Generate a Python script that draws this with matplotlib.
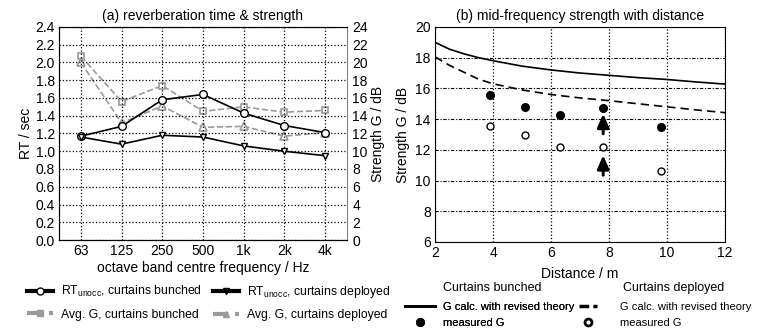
import matplotlib
matplotlib.use("Agg")
import matplotlib.pyplot as plt
from matplotlib.lines import Line2D

plt.rcParams["font.family"] = ["Liberation Sans", "DejaVu Sans"]
plt.rcParams["font.size"] = 10

# ---------------------------------------------------------------------------
# (a) reverberation time and strength per octave band
# ---------------------------------------------------------------------------
bands = ["63", "125", "250", "500", "1k", "2k", "4k"]
rt_bunched = [1.17, 1.28, 1.58, 1.64, 1.43, 1.29, 1.21]
rt_deployed = [1.16, 1.08, 1.18, 1.16, 1.06, 1.00, 0.95]
g_bunched = [20.7, 15.6, 17.4, 14.5, 15.0, 14.4, 14.6]
g_deployed = [20.0, 13.2, 15.1, 12.7, 12.8, 11.7, 12.1]

# ---------------------------------------------------------------------------
# (b) mid-frequency strength against source-receiver distance
# ---------------------------------------------------------------------------
calc_dist = [2, 2.5, 3, 3.5, 4, 5, 6, 7, 8, 9, 10, 11, 12]
calc_bunched = [19.0, 18.55, 18.25, 18.0, 17.8, 17.45, 17.2, 17.0, 16.85, 16.7, 16.58, 16.42, 16.28]
calc_deployed = [18.05, 17.5, 17.05, 16.6, 16.3, 15.9, 15.6, 15.38, 15.2, 15.0, 14.8, 14.6, 14.42]
meas_dist = [3.9, 5.1, 6.3, 7.8, 9.8]
meas_bunched = [15.6, 14.8, 14.25, 14.75, 13.5]
meas_deployed = [13.55, 12.95, 12.2, 12.2, 10.6]
arrow_x = 7.8
arrow_spans = [(13.05, 14.35), (10.35, 11.65)]

GREY = "#9a9a9a"
grid_kw = dict(color="black", linestyle=":", linewidth=0.9)

fig = plt.figure(figsize=(7.72, 3.36), dpi=100)

# --- panel (a) --------------------------------------------------------------
ax1 = fig.add_axes([0.0764, 0.2857, 0.373, 0.634])
ax2 = ax1.twinx()
x = list(range(len(bands)))

ax1.plot(x, rt_bunched, color="black", lw=1.2, marker="o",
         ms=5.5, mfc="white", mec="black", mew=1.0)
ax1.plot(x, rt_deployed, color="black", lw=1.2, marker="v",
         ms=5.0, mfc="white", mec="black", mew=1.0)
ax2.plot(x, g_bunched, color=GREY, lw=1.2, ls="--", marker="s",
         ms=5.0, mfc="white", mec=GREY, mew=1.2)
ax2.plot(x, g_deployed, color=GREY, lw=1.2, ls="--", marker="^",
         ms=5.5, mfc="white", mec=GREY, mew=1.2)
ax1.set_zorder(ax2.get_zorder() + 1)
ax1.patch.set_visible(False)

ax1.set_xlim(-0.54, 6.54)
ax1.set_ylim(0, 2.4)
ax1.set_yticks([i * 0.2 for i in range(13)])
ax1.set_yticklabels([f"{i * 0.2:.1f}" for i in range(13)])
ax1.set_xticks(x)
ax1.set_xticklabels(bands)
ax2.set_ylim(0, 24)
ax2.set_yticks(range(0, 25, 2))
ax1.grid(True, **grid_kw)
ax1.tick_params(length=0, pad=3)
ax2.tick_params(length=0, pad=4)
ax1.set_ylabel("RT / sec", labelpad=2)
ax2.set_ylabel("Strength G / dB", labelpad=2)
ax1.set_xlabel("octave band centre frequency / Hz", labelpad=2)
ax1.set_title("(a) reverberation time & strength", fontsize=10, pad=5)
ax2.spines["right"].set_color("#808080")
ax1.spines["right"].set_visible(False)

h_rb = Line2D([], [], color="black", lw=3, marker="o", ms=5, mfc="white", mec="black")
h_rd = Line2D([], [], color="black", lw=3, marker="v", ms=5, mfc="black", mec="black")
h_gb = Line2D([], [], color=GREY, lw=3, ls="--", marker="s", ms=5, mfc=GREY, mec=GREY)
h_gd = Line2D([], [], color=GREY, lw=3, ls="--", marker="^", ms=5, mfc=GREY, mec=GREY)
fig.legend([h_rb, h_gb, h_rd, h_gd],
           ["RT$_\\mathregular{unocc}$, curtains bunched",
            "Avg. G, curtains bunched",
            "RT$_\\mathregular{unocc}$, curtains deployed",
            "Avg. G, curtains deployed"],
           ncol=2, loc="upper left", bbox_to_anchor=(0.035, 0.154),
           frameon=False, fontsize=8.8, handlelength=2.1, handletextpad=0.7,
           columnspacing=0.9, labelspacing=0.75, borderaxespad=0, borderpad=0)

# --- panel (b) --------------------------------------------------------------
ax3 = fig.add_axes([0.5635, 0.2798, 0.3756, 0.64])
ax3.plot(calc_dist, calc_bunched, color="black", lw=1.2)
ax3.plot(calc_dist, calc_deployed, color="black", lw=1.2, ls=(0, (5, 3)))
ax3.plot(meas_dist, meas_bunched, ls="none", marker="o", ms=5.5,
         mfc="black", mec="black")
ax3.plot(meas_dist, meas_deployed, ls="none", marker="o", ms=5.0,
         mfc="white", mec="black", mew=1.0)
for y0, y1 in arrow_spans:
    ax3.annotate("", xy=(arrow_x, y1), xytext=(arrow_x, y0),
                 arrowprops=dict(arrowstyle="-|>,head_width=0.35,head_length=0.8",
                                 color="black", lw=2.2, shrinkA=0, shrinkB=0))
ax3.set_xlim(2, 12)
ax3.set_ylim(6, 20)
ax3.set_xticks(range(2, 13, 2))
ax3.set_yticks(range(6, 21, 2))
ax3.xaxis.grid(True, **grid_kw)
ax3.yaxis.grid(True, color="black", linestyle=(0, (3, 1.5, 1, 1.5)), linewidth=0.8)
ax3.tick_params(length=0, pad=3)
ax3.set_xlabel("Distance / m", labelpad=5)
ax3.set_ylabel("Strength G / dB", labelpad=4)
ax3.set_title("(b) mid-frequency strength with distance", fontsize=10, pad=5)

h_cb = Line2D([], [], color="black", lw=2)
h_mb = Line2D([], [], ls="none", marker="o", ms=5.5, mfc="black", mec="black")
h_cd = Line2D([], [], color="black", lw=2.5, ls=(0, (2.8, 1.2)))
h_md = Line2D([], [], ls="none", marker="o", ms=5.0, mfc="white", mec="black", mew=2)
leg_kw = dict(loc="upper left", frameon=False, fontsize=8, labelspacing=0.55,
              borderaxespad=0, borderpad=0)
leg_b = fig.legend([h_cb, h_mb], ["G calc. with revised theory", "measured G"],
                   bbox_to_anchor=(0.5246, 0.102), handlelength=2.7,
                   handletextpad=0.72, **leg_kw)
fig.add_artist(leg_b)
fig.legend([h_cd, h_md], ["G calc. with revised theory", "measured G"],
           bbox_to_anchor=(0.75, 0.102), handlelength=1.6,
           handletextpad=2.1, **leg_kw)
fig.text(0.5738, 0.1429, "Curtains bunched", fontsize=9, va="center")
fig.text(0.807, 0.1429, "Curtains deployed", fontsize=9, va="center")

fig.savefig("out.png", dpi=100)
